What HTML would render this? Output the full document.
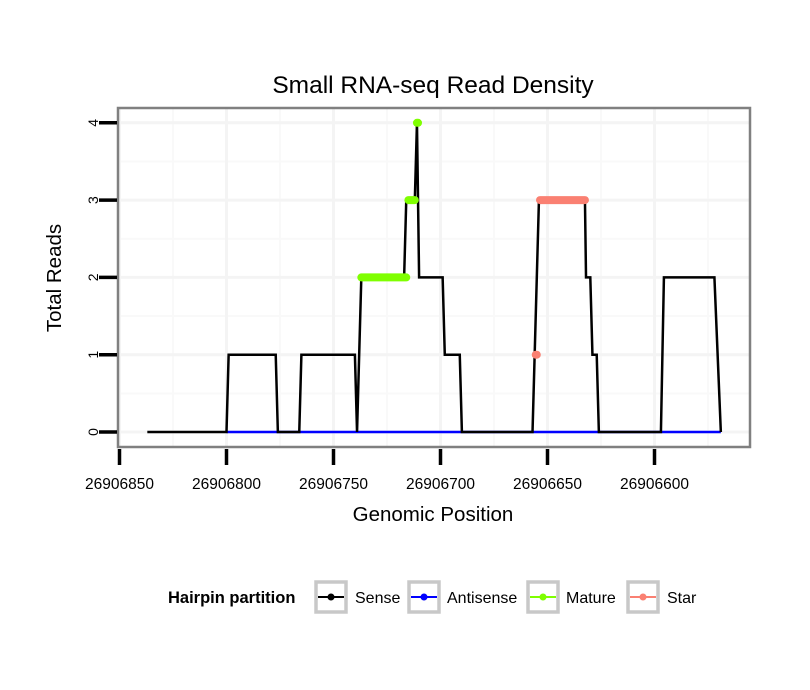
<!DOCTYPE html>
<html><head><meta charset="utf-8"><style>
body{margin:0;background:#fff;}
svg{display:block;font-family:"Liberation Sans",Arial,sans-serif;}
</style></head><body>
<svg id="chart" width="810" height="690" viewBox="0 0 810 690">
<rect width="810" height="690" fill="#fff"/>
<text x="433" y="93" text-anchor="middle" font-size="24.5">Small RNA-seq Read Density</text>
<g id="grid"></g>
<g id="series"></g>
<rect x="118" y="108" width="632" height="339" fill="none" stroke="#808080" stroke-width="2.5"/>
<g id="axes"></g>
<text x="433" y="521" text-anchor="middle" font-size="20.5">Genomic Position</text>
<text transform="translate(61,278) rotate(-90)" text-anchor="middle" font-size="20.5">Total Reads</text>
<g>
<text x="168" y="603" font-size="16.5" font-weight="bold">Hairpin partition</text>
<g>
<rect x="316" y="582" width="30" height="30" fill="#fff" stroke="#c8c8c8" stroke-width="3.5"/>
<line x1="318" y1="597" x2="344" y2="597" stroke="#000" stroke-width="2"/><circle cx="331" cy="597" r="3.5" fill="#000"/>
<text x="355" y="603" font-size="16">Sense</text></g>
<g>
<rect x="409" y="582" width="30" height="30" fill="#fff" stroke="#c8c8c8" stroke-width="3.5"/>
<line x1="411" y1="597" x2="437" y2="597" stroke="#0000ff" stroke-width="2"/><circle cx="424" cy="597" r="3.5" fill="#0000ff"/>
<text x="447" y="603" font-size="16">Antisense</text></g>
<g>
<rect x="528" y="582" width="30" height="30" fill="#fff" stroke="#c8c8c8" stroke-width="3.5"/>
<line x1="530" y1="597" x2="556" y2="597" stroke="#7fff00" stroke-width="2"/><circle cx="543" cy="597" r="3.5" fill="#7fff00"/>
<text x="566" y="603" font-size="16">Mature</text></g>
<g>
<rect x="628" y="582" width="30" height="30" fill="#fff" stroke="#c8c8c8" stroke-width="3.5"/>
<line x1="630" y1="597" x2="656" y2="597" stroke="#fa8072" stroke-width="2"/><circle cx="643" cy="597" r="3.5" fill="#fa8072"/>
<text x="667" y="603" font-size="16">Star</text></g>
</g>
</svg>
<script>
const xTicks = [26906850, 26906800, 26906750, 26906700, 26906650, 26906600];
const yTicks = [0, 1, 2, 3, 4];
const sensePos = [26906837,26906800,26906799,26906777,26906776,26906766,26906765,26906740,26906739,26906737,26906717,26906716,26906712,26906711,26906710,26906699,26906698,26906691,26906690,26906657,26906656,26906654,26906632.5,26906632,26906630,26906629,26906627,26906626,26906597,26906595.6,26906572,26906569];
const senseVal = [0,0,1,1,0,0,1,1,0,2,2,3,3,4,2,2,1,1,0,0,1,3,3,2,2,1,1,0,0,2,2,0];
const antisensePos = [26906800, 26906569];
const antisenseVal = [0, 0];
const matureStart = [26906737, 26906715, 26906711];
const matureEnd = [26906716, 26906712, 26906710.5];
const matureVal = [2, 3, 4];
const starStart = [26906655.5, 26906653.5];
const starEnd = [26906655, 26906632.5];
const starVal = [1, 3];

const NS = 'http://www.w3.org/2000/svg';
const X = p => 119.5 + (26906850 - p) * 2.14;
const Y = v => 432 - v * 77.3;
function mk(tag, attrs, parent){const e=document.createElementNS(NS,tag);for(const k in attrs)e.setAttribute(k,attrs[k]);parent.appendChild(e);return e;}
const grid=document.getElementById('grid'), series=document.getElementById('series'), axes=document.getElementById('axes');
mk('rect',{x:118,y:108,width:632,height:339,fill:'#fff'},grid);
for(let i=0;i<xTicks.length;i++){const p=xTicks[i]-25;const x=X(p);if(x>118&&x<750){const l=mk('line',{x1:x,x2:x,y1:108,y2:447,stroke:'#f9f9f9','stroke-width':2},grid);

}}
for(let i=0;i<yTicks.length;i++){const y=Y(yTicks[i]+0.5);if(y>108){const l=mk('line',{x1:118,x2:750,y1:y,y2:y,stroke:'#f9f9f9','stroke-width':2},grid);

}}
xTicks.forEach(p=>{const x=X(p);if(x>119&&x<750){const l=mk('line',{x1:x,x2:x,y1:108,y2:447,stroke:'#f4f4f4','stroke-width':3},grid);

}
const t=mk('line',{x1:x,x2:x,y1:449,y2:465,stroke:'#000','stroke-width':3.5},axes);


const tx=mk('text',{x:x,y:489,'text-anchor':'middle','font-size':15.5},axes);tx.textContent=p;

});
yTicks.forEach(v=>{const y=Y(v);const l=mk('line',{x1:118,x2:750,y1:y,y2:y,stroke:'#f4f4f4','stroke-width':3},grid);


const t=mk('line',{x1:99,x2:117,y1:y,y2:y,stroke:'#000','stroke-width':3.5},axes);


const tx=mk('text',{transform:`translate(98,${y}) rotate(-90)`,'text-anchor':'middle','font-size':14},axes);tx.textContent=v;

});
function pts(P,V){return P.map((p,i)=>X(p)+','+Y(V[i])).join(' ');}
const anti=mk('polyline',{points:pts(antisensePos,antisenseVal),fill:'none',stroke:'#0000ff','stroke-width':2.5},series);


const sense=mk('polyline',{points:pts(sensePos,senseVal),fill:'none',stroke:'#000','stroke-width':2.5},series);


matureVal.forEach((v,i)=>{const l=mk('line',{x1:X(matureStart[i]),x2:X(matureEnd[i]),y1:Y(v),y2:Y(v),stroke:'#7fff00','stroke-width':8,'stroke-linecap':'round'},series);

});
starVal.forEach((v,i)=>{const l=mk('line',{x1:X(starStart[i]),x2:X(starEnd[i]),y1:Y(v),y2:Y(v),stroke:'#fa8072','stroke-width':8,'stroke-linecap':'round'},series);

});
</script>
</body></html>
